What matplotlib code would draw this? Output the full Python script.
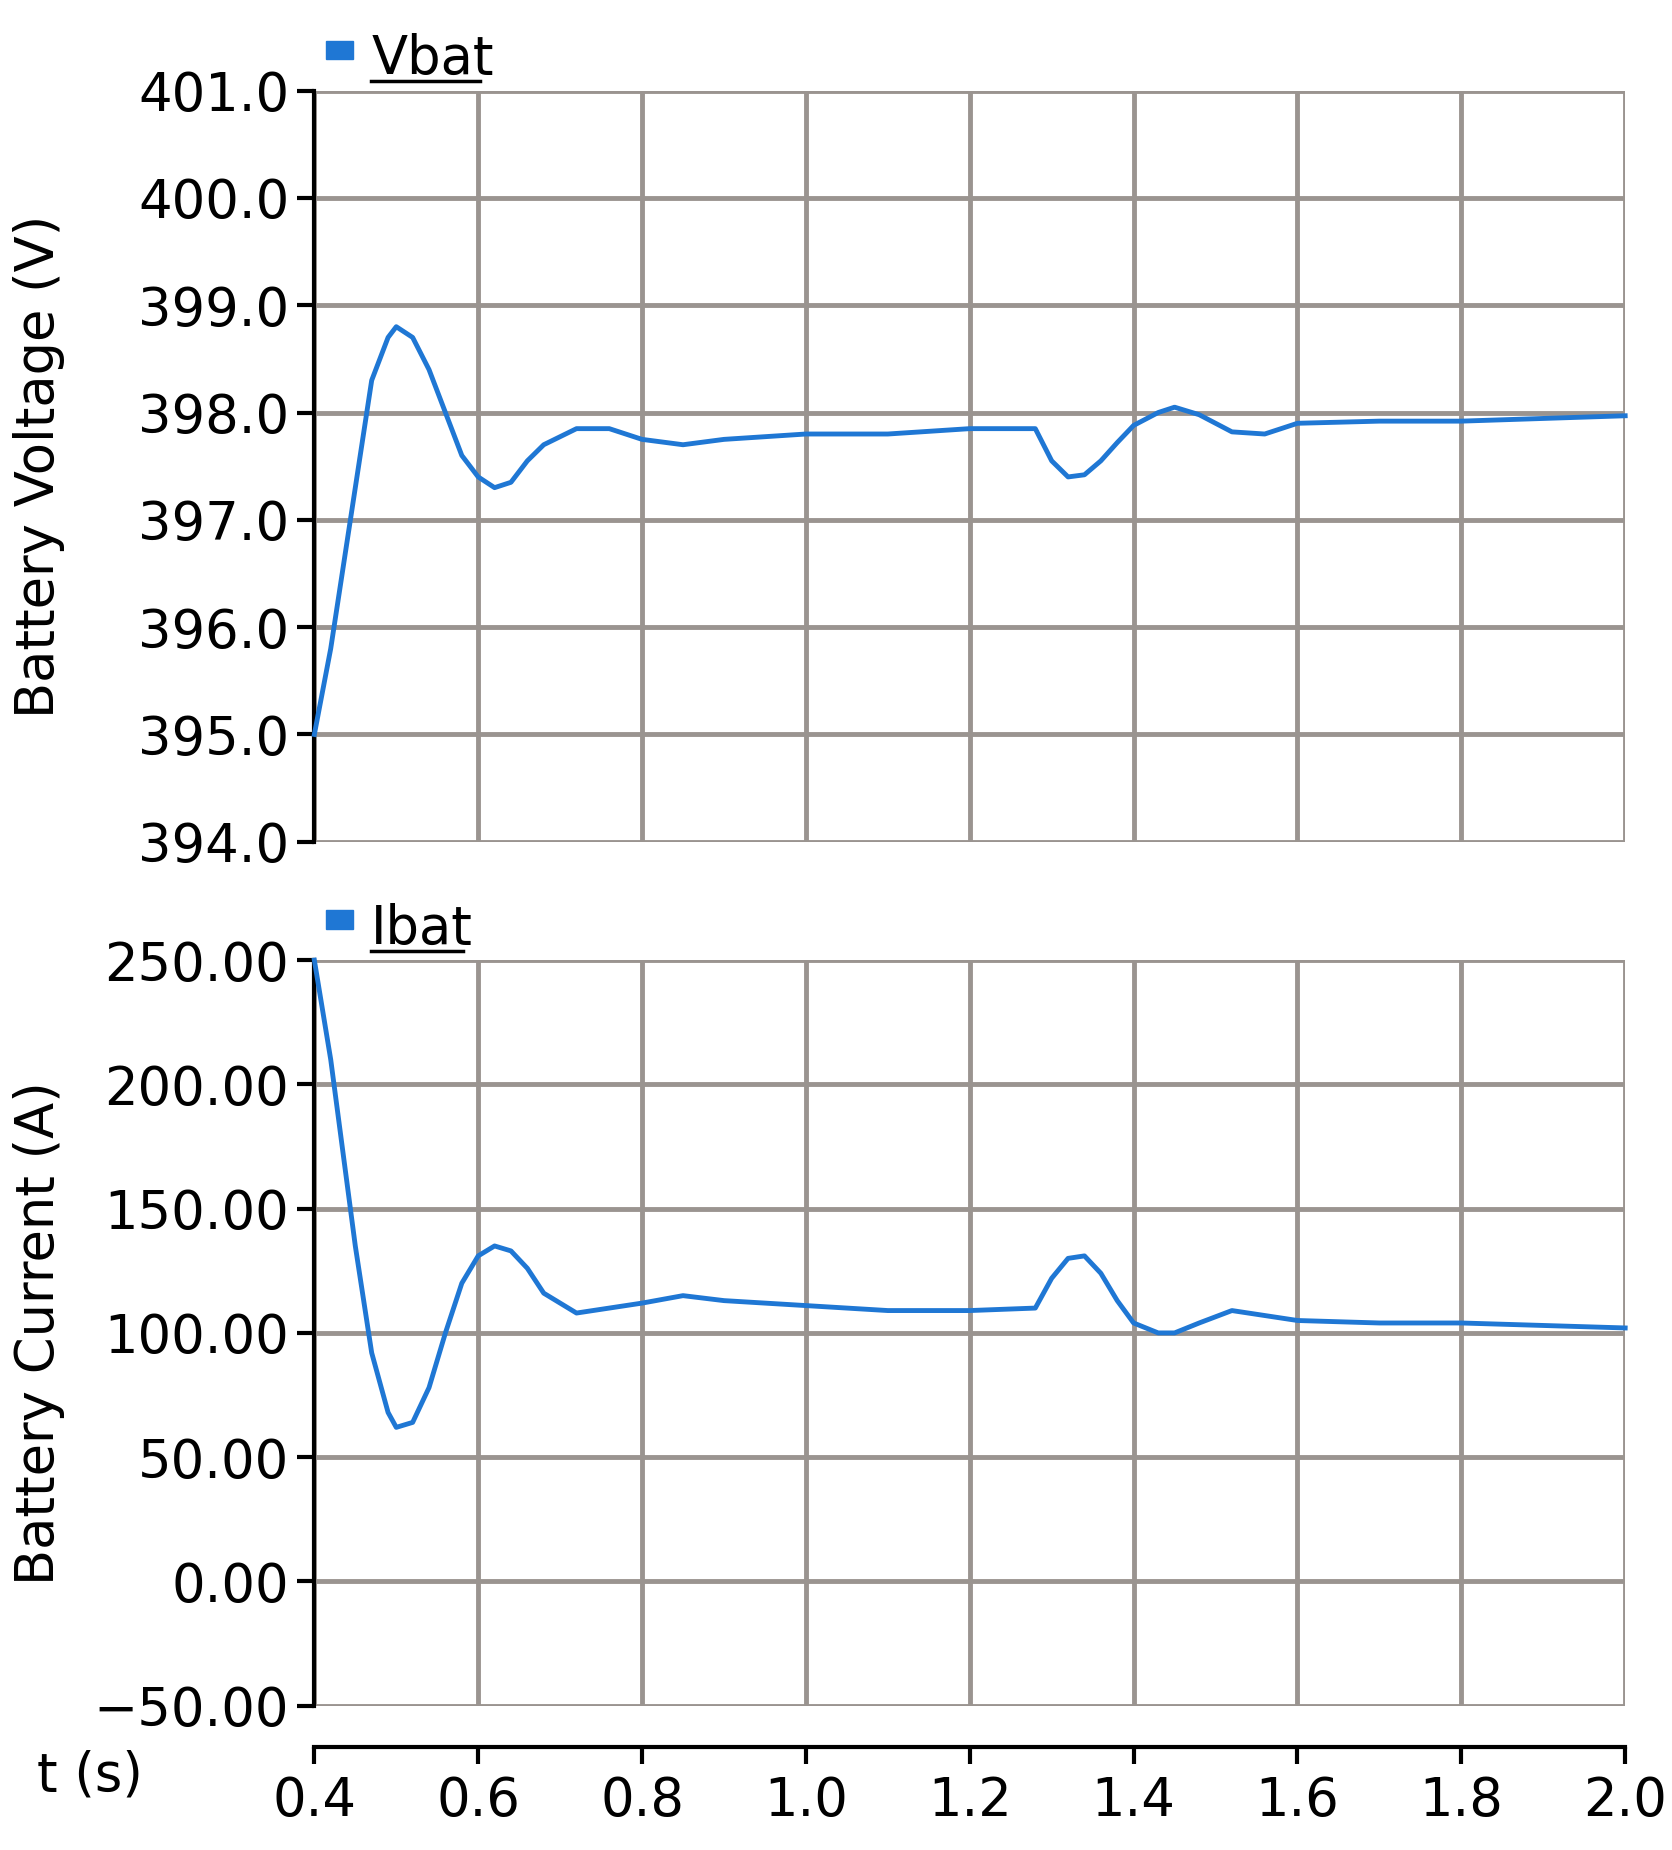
import matplotlib.pyplot as plt

# Vbat (V)
t_v = [0.40, 0.42, 0.45, 0.47, 0.49, 0.50, 0.52, 0.54, 0.56, 0.58, 0.60, 0.62, 0.64, 0.66,
       0.68, 0.72, 0.76, 0.80, 0.85, 0.90, 1.00, 1.10, 1.20, 1.28, 1.30, 1.32, 1.34, 1.36,
       1.38, 1.40, 1.43, 1.45, 1.48, 1.52, 1.56, 1.60, 1.70, 1.80, 2.00]
vbat = [395.0, 395.8, 397.3, 398.3, 398.7, 398.8, 398.7, 398.4, 398.0, 397.6, 397.4, 397.3,
        397.35, 397.55, 397.7, 397.85, 397.85, 397.75, 397.7, 397.75, 397.8, 397.8, 397.85,
        397.85, 397.55, 397.4, 397.42, 397.55, 397.72, 397.88, 398.0, 398.05, 397.98, 397.82,
        397.8, 397.9, 397.92, 397.92, 397.97]

# Ibat (A)
t_i = [0.40, 0.42, 0.45, 0.47, 0.49, 0.50, 0.52, 0.54, 0.56, 0.58, 0.60, 0.62, 0.64, 0.66,
       0.68, 0.72, 0.76, 0.80, 0.85, 0.90, 1.00, 1.10, 1.20, 1.28, 1.30, 1.32, 1.34, 1.36,
       1.38, 1.40, 1.43, 1.45, 1.48, 1.52, 1.56, 1.60, 1.70, 1.80, 2.00]
ibat = [250, 210, 135, 92, 68, 62, 64, 78, 100, 120, 131, 135, 133, 126, 116, 108, 110, 112,
        115, 113, 111, 109, 109, 110, 122, 130, 131, 124, 113, 104, 100, 100, 104, 109, 107,
        105, 104, 104, 102]

x_ticks = [0.4, 0.6, 0.8, 1.0, 1.2, 1.4, 1.6, 1.8, 2.0]
v_ticks = [394, 395, 396, 397, 398, 399, 400, 401]
i_ticks = [-50, 0, 50, 100, 150, 200, 250]

blue = '#1f77d4'
grid_c = '#9a9490'
fs = 38

fig = plt.figure(figsize=(16.72, 18.5), dpi=100)
ax1 = fig.add_axes([0.188, 0.545, 0.784, 0.406])
ax2 = fig.add_axes([0.188, 0.078, 0.784, 0.403])


def style(ax, ylo, yhi, ticks, fmt):
    ax.set_xlim(0.4, 2.0)
    ax.set_ylim(ylo, yhi)
    ax.set_xticks(x_ticks)
    ax.set_yticks(ticks)
    ax.set_yticklabels([fmt.format(v).replace('-', '\u2212') for v in ticks], fontsize=fs)
    ax.grid(True, color=grid_c, linewidth=3.5)
    ax.set_axisbelow(True)
    for s in ['top', 'right']:
        ax.spines[s].set_visible(False)
    ax.spines['left'].set_linewidth(3)
    ax.spines['left'].set_zorder(5)
    ax.tick_params(axis='y', length=12, width=3, pad=6)


style(ax1, 394, 401, v_ticks, '{:.1f}')
style(ax2, -50, 250, i_ticks, '{:.2f}')

ax1.plot(t_v, vbat, color=blue, linewidth=3.5, clip_on=False, zorder=6)
ax2.plot(t_i, ibat, color=blue, linewidth=3.5, clip_on=False, zorder=6)

ax1.spines['bottom'].set_visible(False)
ax1.tick_params(axis='x', length=0, labelbottom=False)
ax2.spines['bottom'].set_position(('outward', 30))
ax2.spines['bottom'].set_linewidth(3)
ax2.tick_params(axis='x', length=12, width=3, labelsize=fs, pad=8)
ax2.set_xticklabels(['{:.1f}'.format(v) for v in x_ticks])

ax1.set_ylabel('Battery Voltage (V)', fontsize=fs)
ax2.set_ylabel('Battery Current (A)', fontsize=fs)
ax1.yaxis.set_label_coords(-0.19, 0.5)
ax2.yaxis.set_label_coords(-0.19, 0.5)
fig.text(0.022, 0.032, 't (s)', fontsize=fs)

# legends: small blue square with underlined name
for name, y, x_end in [('Vbat', 0.972, 0.287), ('Ibat', 0.502, 0.277)]:
    fig.patches.append(plt.Rectangle((0.195, y - 0.004), 0.016, 0.010, color=blue,
                                     transform=fig.transFigure, figure=fig))
    fig.text(0.222, y - 0.012, name, fontsize=fs)
    fig.add_artist(plt.Line2D([0.222, x_end], [y - 0.016, y - 0.016],
                              color='black', linewidth=2.5))

fig.savefig('out.png', dpi=100)
